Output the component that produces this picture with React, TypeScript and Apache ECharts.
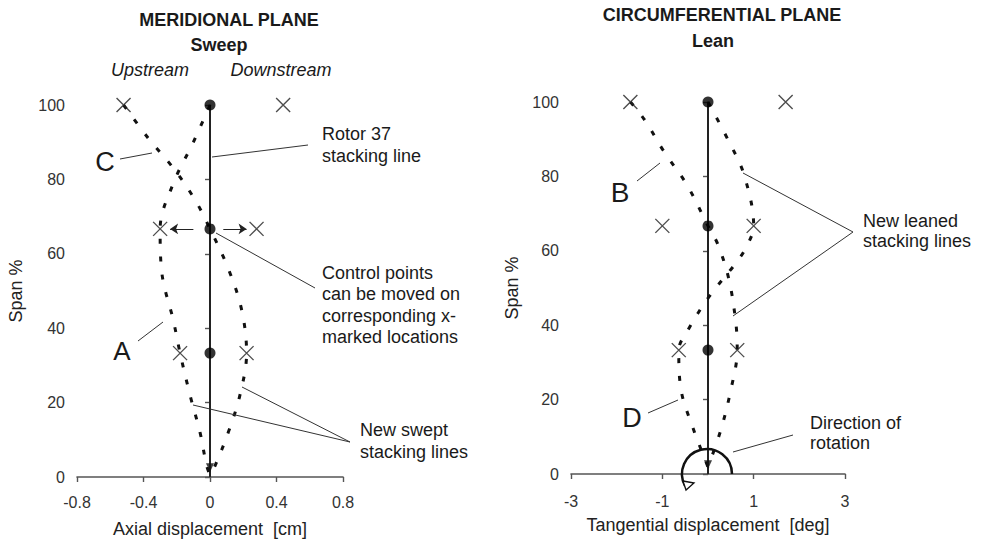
import React, { useEffect, useRef } from "react";
import * as echarts from "echarts";

// ---------- data ----------
const controlSpans = [100, 66.7, 33.3];
const stackingLine: [number, number][] = [[0, 0], [0, 100]];

const sweepTicks = [-0.8, -0.4, 0, 0.4, 0.8];
const sweepMarkers: [number, number][] = [
  [-0.52, 100], [0.44, 100], [-0.3, 66.7], [0.28, 66.7], [-0.18, 33.3], [0.22, 33.3],
];
const sweepCurveC: [number, number][] = [
  [-0.52, 100], [-0.37, 91], [-0.22, 83], [-0.09, 74.5], [0, 66.7], [0.11, 56],
  [0.19, 45], [0.22, 33.3], [0.18, 22], [0.11, 12], [0.03, 3], [0, 0.5],
];
const sweepCurveA: [number, number][] = [
  [0, 100], [-0.1, 90], [-0.22, 79], [-0.3, 66.7], [-0.29, 55], [-0.22, 42],
  [-0.18, 33.3], [-0.12, 22], [-0.06, 12], [-0.02, 3], [0, 0.5],
];
const sweepArrows: [number, number][][] = [
  [[-0.1, 66.7], [-0.24, 66.7]],
  [[0.08, 66.7], [0.22, 66.7]],
];

const leanTicks = [-3, -1, 1, 3];
const leanMarkers: [number, number][] = [
  [-1.7, 100], [1.7, 100], [-1.0, 66.7], [1.0, 66.7], [-0.64, 33.3], [0.64, 33.3],
];
const leanCurveB: [number, number][] = [
  [-1.7, 100], [-1.4, 95.4], [-0.96, 86.6], [-0.46, 77.7], [0, 66.7], [0.22, 61.6],
  [0.46, 52.2], [0.61, 40.6], [0.64, 33.3], [0.5, 22.6], [0.28, 11.8], [0, 1.9],
];
const leanCurveD: [number, number][] = [
  [0, 100], [0.44, 89.8], [0.79, 80.4], [1.0, 66.7], [0.83, 60.8], [0.61, 56.7],
  [0.02, 47.6], [-0.44, 38.7], [-0.64, 33.3], [-0.59, 22.6], [-0.33, 12.4], [0, 1.9],
];
const arrowTip: [number, number][] = [[0, 2.5]];

// ---------- styles ----------
const FONT = "'Liberation Sans', Arial, Helvetica, sans-serif";
const INK = "#1a1a1a";
const X_SYMBOL = "path://M0,0L10,10M10,0L0,10";

const dotted = { color: "#111", width: 3, type: [5, 13] as number[], cap: "butt" as const };

function axisCommon() {
  return {
    axisLine: { show: true, lineStyle: { color: "#555", width: 1.6 } },
    axisTick: { show: true, length: 5, lineStyle: { color: "#555", width: 1.4 } },
    splitLine: { show: false },
    axisLabel: { color: "#333", fontSize: 16, fontFamily: FONT },
    nameTextStyle: { color: "#222", fontSize: 18, fontFamily: FONT },
  };
}

function panelSeries(idx: number, markers: [number, number][], curves: [number, number][][]) {
  const base = { xAxisIndex: idx, yAxisIndex: idx };
  const s: any[] = [];
  s.push({
    ...base,
    type: "line",
    data: stackingLine,
    showSymbol: false,
    lineStyle: { color: "#222", width: 2 },
    z: 3,
  });
  curves.forEach((c) =>
    s.push({
      ...base,
      type: "line",
      data: c,
      smooth: 0.35,
      showSymbol: false,
      lineStyle: dotted,
      z: 4,
    })
  );
  s.push({
    ...base,
    type: "scatter",
    data: controlSpans.map((v) => [0, v]),
    symbol: "circle",
    symbolSize: 11,
    itemStyle: { color: "#000" },
    z: 6,
  });
  s.push({
    ...base,
    type: "scatter",
    data: markers,
    symbol: X_SYMBOL,
    symbolSize: 14,
    itemStyle: { color: "transparent", borderColor: "#222", borderWidth: 1.4 },
    z: 5,
  });
  s.push({
    ...base,
    type: "scatter",
    data: arrowTip,
    symbol: "triangle",
    symbolRotate: 180,
    symbolSize: [8, 9],
    itemStyle: { color: "#111" },
    z: 6,
  });
  return s;
}

function txt(text: string, x: number, y: number, opts: any = {}) {
  return {
    type: "text",
    x,
    y,
    z: 10,
    style: {
      text,
      fill: INK,
      fontFamily: FONT,
      fontSize: 18,
      textAlign: "left",
      textVerticalAlign: "top",
      ...opts,
    },
  };
}

function seg(x1: number, y1: number, x2: number, y2: number) {
  return {
    type: "line",
    z: 9,
    shape: { x1, y1, x2, y2 },
    style: { stroke: "#333", lineWidth: 1 },
  };
}

export default function App() {
  const ref = useRef<HTMLDivElement>(null);

  useEffect(() => {
    if (!ref.current) return;
    const chart = echarts.init(ref.current, undefined, { renderer: "svg" });

    const series: any[] = [
      ...panelSeries(0, sweepMarkers, [sweepCurveC, sweepCurveA]),
      ...panelSeries(1, leanMarkers, [leanCurveB, leanCurveD]),
      {
        type: "lines",
        coordinateSystem: "cartesian2d",
        xAxisIndex: 0,
        yAxisIndex: 0,
        data: sweepArrows.map((c) => ({ coords: c })),
        symbol: ["none", "arrow"],
        symbolSize: 8,
        lineStyle: { color: "#222", width: 1.2, opacity: 1 },
        z: 5,
      },
    ];

    const graphic: any[] = [
      // headings
      txt("MERIDIONAL PLANE", 229, 20, { fontWeight: "bold", textAlign: "center", textVerticalAlign: "middle" }),
      txt("Sweep", 219, 45, { fontWeight: "bold", textAlign: "center", textVerticalAlign: "middle" }),
      txt("Upstream", 150, 70, { fontStyle: "italic", textAlign: "center", textVerticalAlign: "middle" }),
      txt("Downstream", 281, 70, { fontStyle: "italic", textAlign: "center", textVerticalAlign: "middle" }),
      txt("CIRCUMFERENTIAL PLANE", 722, 15, { fontWeight: "bold", textAlign: "center", textVerticalAlign: "middle" }),
      txt("Lean", 713, 41, { fontWeight: "bold", textAlign: "center", textVerticalAlign: "middle" }),
      // curve letters
      txt("C", 105, 162, { fontSize: 27, textAlign: "center", textVerticalAlign: "middle" }),
      txt("A", 122, 351, { fontSize: 26, textAlign: "center", textVerticalAlign: "middle" }),
      txt("B", 620, 192, { fontSize: 28, textAlign: "center", textVerticalAlign: "middle" }),
      txt("D", 632, 418, { fontSize: 27, textAlign: "center", textVerticalAlign: "middle" }),
      seg(120, 159, 152, 153),
      seg(138, 341, 163, 322),
      seg(637, 181, 660, 163),
      seg(648, 413, 678, 400),
      // annotations left
      txt("Rotor 37\nstacking line", 322, 123, { lineHeight: 22 }),
      seg(212, 157, 308, 145),
      txt("Control points\ncan be moved on\ncorresponding x-\nmarked locations", 322, 262, { lineHeight: 21.4 }),
      seg(216, 233, 315, 288),
      txt("New swept\nstacking lines", 360, 419, { lineHeight: 22 }),
      seg(193, 405, 350, 442),
      seg(242, 387, 350, 442),
      // annotations right
      txt("New leaned\nstacking lines", 863, 211, { lineHeight: 20 }),
      seg(743, 173, 853, 232),
      seg(733, 316, 853, 232),
      txt("Direction of\nrotation", 810, 413, { lineHeight: 20 }),
      seg(733, 452, 793, 435),
      // rotation arc
      {
        type: "arc",
        z: 8,
        shape: { cx: 707, cy: 474, r: 25, startAngle: 2.64, endAngle: Math.PI * 2, clockwise: true },
        style: { stroke: "#111", lineWidth: 2.5, fill: "none" },
      },
      {
        type: "polygon",
        z: 8,
        shape: { points: [[683, 481], [694, 483], [686, 490]] },
        style: { stroke: "#111", lineWidth: 1.3, fill: "#fff" },
      },
    ];

    chart.setOption({
      animation: false,
      backgroundColor: "#ffffff",
      textStyle: { fontFamily: FONT },
      grid: [
        { left: 77, top: 105, width: 266, height: 372, outerBoundsMode: "none" },
        { left: 571, top: 102, width: 274, height: 372, outerBoundsMode: "none" },
      ],
      xAxis: [
        {
          ...axisCommon(),
          gridIndex: 0,
          type: "value",
          min: sweepTicks[0],
          max: sweepTicks[sweepTicks.length - 1],
          interval: 0.4,
          name: "Axial displacement  [cm]",
          nameLocation: "middle",
          nameGap: 43,
          axisLabel: {
            ...axisCommon().axisLabel,
            margin: 17,
            formatter: (v: number) => (Math.abs(v) < 1e-9 ? "0" : v.toFixed(1)),
          },
        },
        {
          ...axisCommon(),
          gridIndex: 1,
          type: "value",
          min: leanTicks[0],
          max: leanTicks[leanTicks.length - 1],
          interval: 2,
          name: "Tangential displacement  [deg]",
          nameLocation: "middle",
          nameGap: 42,
          axisLabel: {
            ...axisCommon().axisLabel,
            margin: 19,
            formatter: (v: number) => String(Math.round(v)),
          },
        },
      ],
      yAxis: [
        {
          ...axisCommon(),
          gridIndex: 0,
          type: "value",
          min: 0,
          max: 100,
          interval: 20,
          name: "Span %",
          nameLocation: "middle",
          nameGap: 52,
          axisLabel: { ...axisCommon().axisLabel, margin: 12 },
        },
        {
          ...axisCommon(),
          gridIndex: 1,
          type: "value",
          min: 0,
          max: 100,
          interval: 20,
          name: "Span %",
          nameLocation: "middle",
          nameGap: 50,
          axisLabel: { ...axisCommon().axisLabel, margin: 12 },
        },
      ],
      series,
      graphic,
    });

    return () => chart.dispose();
  }, []);

  return (
    <div
      ref={ref}
      style={{ position: "fixed", left: 0, top: 0, width: 981, height: 545, background: "#fff" }}
    />
  );
}
